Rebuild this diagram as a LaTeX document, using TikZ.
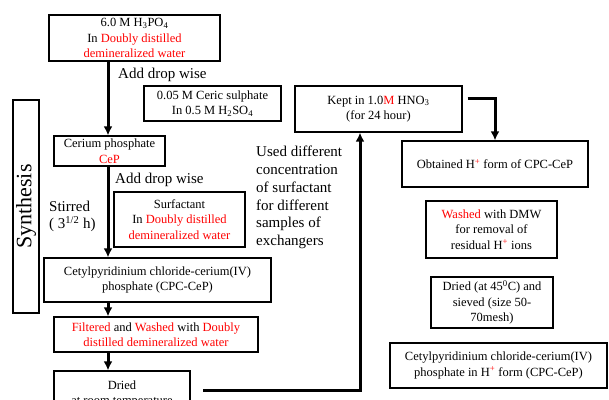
\documentclass[tikz,border=0pt]{standalone}
\usepackage{fontspec}
\setmainfont{Liberation Serif}
\usepackage{xcolor}
\usetikzlibrary{arrows.meta}
\newcommand{\rouge}[1]{\textcolor{red}{#1}}

\begin{document}
\begin{tikzpicture}[x=1pt,y=-1pt]
% Styles
\tikzstyle{fleche}=[-{Latex[length=9pt,width=9pt]},line width=3pt]
\tikzstyle{boite}=[draw,line width=1.3pt,align=center,inner sep=2pt,font=\fontsize{12.5}{15.5}\selectfont]
\tikzstyle{texte}=[align=left,inner sep=0pt,font=\fontsize{15}{17.7}\selectfont]
% Cadre
\clip (0,0) rectangle (609,399);
% Colonne de synthese
\node[boite,minimum width=171pt,minimum height=46pt] (acide) at (134.5,38) {6.0 M H\textsubscript{3}PO\textsubscript{4}\\In \rouge{Doubly distilled}\\\rouge{demineralized water}};
\node[boite,minimum width=137pt,minimum height=35pt] (ceric) at (212.5,103.5) {0.05 M Ceric sulphate\\In 0.5 M H\textsubscript{2}SO\textsubscript{4}};
\node[boite,rotate=90,minimum width=213pt,minimum height=26pt,font=\fontsize{22}{24}\selectfont] (synth) at (26,206.5) {Synthesis};
\node[boite,minimum width=111pt,minimum height=30pt] (cep) at (109.5,151) {Cerium phosphate\\\rouge{CeP}};
\node[boite,minimum width=131pt,minimum height=55pt] (surf) at (179.5,219.5) {Surfactant\\In \rouge{Doubly distilled}\\\rouge{demineralized water}};
\node[boite,minimum width=227pt,minimum height=44pt] (cpc) at (157.5,280) {Cetylpyridinium chloride-cerium(IV)\\phosphate (CPC-CeP)};
\node[boite,minimum width=204pt,minimum height=35pt] (filtre) at (156,334.5) {\rouge{Filtered} and \rouge{Washed} with \rouge{Doubly}\\\rouge{distilled demineralized water}};
\node[boite,minimum width=136pt,minimum height=46pt] (seche) at (122,394) {Dried\\at room temperature};
% Colonne de traitement
\node[boite,minimum width=167pt,minimum height=46pt] (acid) at (378.5,109) {Kept in 1.0\rouge{M} HNO\textsubscript{3}\\(for 24 hour)};
\node[boite,minimum width=186pt,minimum height=46pt] (forme) at (495,164) {Obtained H\textsuperscript{\rouge{+}} form of CPC-CeP};
\node[boite,minimum width=131pt,minimum height=57pt] (lavage) at (491.5,229.5) {\rouge{Washed} with DMW\\for removal of\\residual H\textsuperscript{\rouge{+}} ions};
\node[boite,minimum width=122pt,minimum height=51pt] (tamis) at (492,302.5) {Dried (at 45\textsuperscript{0}C) and\\sieved (size 50-\\70mesh)};
\node[boite,minimum width=217pt,minimum height=45pt] (final) at (498.5,365.5) {Cetylpyridinium chloride-cerium(IV)\\phosphate in H\textsuperscript{\rouge{+}} form (CPC-CeP)};
% Commentaires
\node[texte,anchor=west] (ajout) at (118,75) {Add drop wise};
\node[texte,anchor=west] (ajoutb) at (115,180) {Add drop wise};
\node[texte,anchor=west] (agite) at (49,216.5) {Stirred\\( 3\textsuperscript{1/2} h)};
\node[texte,anchor=west] (conc) at (256,197.5) {Used different\\concentration\\of surfactant\\for different\\samples of\\exchangers};
% Points de passage
\coordinate (axe) at (108,0);
\coordinate (depart) at (203,390);
\coordinate (montee) at (360,0);
% Fleches
\draw[fleche] (acide.south -| axe) -- (cep.north -| axe);
\draw[fleche] (cep.south -| axe) -- (cpc.north -| axe);
\draw[fleche] (cpc.south -| axe) -- (filtre.north -| axe);
\draw[fleche] (filtre.south -| axe) -- (seche.north -| axe);
\draw[fleche] (depart) -| (acid.south -| montee);
\draw[fleche] ([xshift=5pt,yshift=11pt]acid.east) -| (forme.north);
\end{tikzpicture}
\end{document}
